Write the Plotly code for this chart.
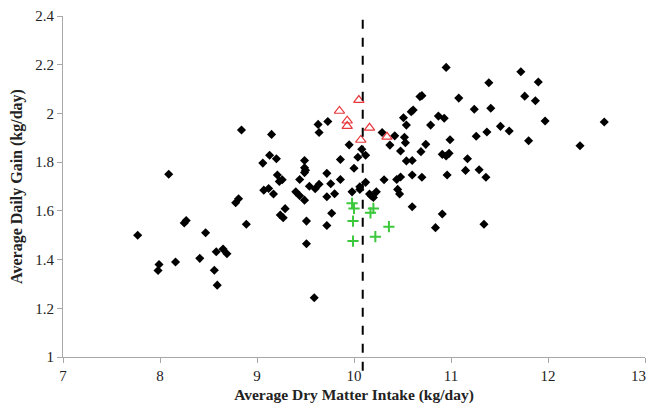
import plotly.graph_objects as go

# Black diamonds: (DMI kg/day, ADG kg/day)
dmi_main = [7.77, 8.09, 8.25, 8.27, 8.47, 7.99, 7.98, 8.16, 8.41, 8.58, 8.65, 8.69, 8.56, 8.59, 8.78, 8.81, 8.89,
            8.84, 9.15, 9.63, 9.73, 9.64, 9.95, 10.08, 10.04, 10.12, 10.00, 9.86, 9.06, 9.13, 9.20, 9.49, 9.49, 9.50,
            9.49, 9.72, 9.21, 9.26, 9.23, 9.44, 9.86, 9.76, 9.64, 9.54, 9.07, 9.12, 9.17, 9.40, 9.44, 9.49, 9.60,
            9.80, 9.72, 9.98, 10.06, 10.06, 10.12, 10.16, 10.18, 10.20, 10.23, 10.31, 10.44, 10.48, 10.45, 10.47,
            10.60, 10.70, 10.60, 9.29, 9.24, 9.27, 9.51, 9.77, 9.72, 9.51, 9.59, 10.84,
            10.68, 10.70, 10.61, 10.59, 10.51, 10.54, 10.79, 10.29, 10.42, 10.52, 10.53, 10.37, 10.48, 10.74, 10.69,
            10.54, 10.60,
            10.95, 11.72, 11.39, 11.90, 11.08, 11.76, 11.87, 11.24, 11.41, 10.87, 10.93, 11.51, 11.60, 11.37, 11.26,
            11.97, 12.58, 12.33, 11.80, 10.99, 10.91, 10.95, 10.98, 11.17, 11.15, 11.29, 11.36, 10.96, 10.91, 11.34]
adg_main = [1.500, 1.750, 1.550, 1.560, 1.510, 1.380, 1.355, 1.390, 1.405, 1.432, 1.443, 1.424, 1.356, 1.295, 1.633, 1.650, 1.545,
            1.932, 1.914, 1.955, 1.967, 1.922, 1.871, 1.853, 1.820, 1.828, 1.775, 1.811, 1.796, 1.828, 1.814, 1.807, 1.777, 1.767,
            1.757, 1.754, 1.747, 1.728, 1.721, 1.729, 1.729, 1.711, 1.709, 1.701, 1.685, 1.692, 1.669, 1.678, 1.662, 1.644, 1.691,
            1.670, 1.658, 1.678, 1.688, 1.699, 1.717, 1.669, 1.661, 1.655, 1.678, 1.728, 1.729, 1.739, 1.688, 1.669,
            1.747, 1.738, 1.617, 1.609, 1.583, 1.572, 1.558, 1.590, 1.540, 1.465, 1.243, 1.531,
            2.069, 2.073, 2.014, 2.007, 1.982, 1.952, 1.952, 1.922, 1.908, 1.902, 1.880, 1.870, 1.846, 1.873, 1.843,
            1.805, 1.807,
            2.189, 2.171, 2.126, 2.129, 2.063, 2.071, 2.052, 2.017, 2.021, 1.989, 1.980, 1.947, 1.928, 1.924, 1.906,
            1.969, 1.965, 1.867, 1.888, 1.892, 1.832, 1.825, 1.836, 1.814, 1.766, 1.769, 1.738, 1.747, 1.587, 1.545]

# Red open triangles
dmi_high = [9.85, 10.05, 9.93, 9.93, 10.16, 10.34, 10.07]
adg_high = [2.010, 2.055, 1.970, 1.948, 1.941, 1.904, 1.891]

# Green crosses
dmi_low = [9.98, 10.00, 10.20, 10.17, 9.99, 10.36, 10.22, 9.99]
adg_low = [1.631, 1.610, 1.610, 1.592, 1.558, 1.535, 1.494, 1.476]

mean_dmi = 10.09

x_ticks = [7, 8, 9, 10, 11, 12, 13]
x_ticktext = ["7", "8", "9", "10", "11", "12", ""]   # "13" drawn as an annotation so it stays inside the page
last_x_label = "13"
y_ticks = [1, 1.2, 1.4, 1.6, 1.8, 2, 2.2, 2.4]
y_ticktext = ["1", "1.2", "1.4", "1.6", "1.8", "2", "2.2", "2.4"]

fig = go.Figure()
fig.add_trace(go.Scatter(x=dmi_main, y=adg_main, mode="markers",
                         marker=dict(symbol="diamond", size=7, color="black"), showlegend=False))
fig.add_trace(go.Scatter(x=dmi_high, y=adg_high, mode="markers",
                         marker=dict(symbol="triangle-up-open", size=9, color="#e8383d",
                                     line=dict(width=1.2, color="#e8383d")), showlegend=False))
fig.add_trace(go.Scatter(x=dmi_low, y=adg_low, mode="markers",
                         marker=dict(symbol="cross-thin", size=8,
                                     line=dict(width=2, color="#3cc83c")), showlegend=False))

fig.add_shape(type="line", xref="x", yref="paper", x0=mean_dmi, x1=mean_dmi, y0=-0.04, y1=1.0,
              line=dict(color="black", width=2, dash="dash"))

font_family = "Liberation Serif"
fig.add_annotation(x=x_ticks[-1], xref="x", y=0, yref="paper", text=last_x_label, showarrow=False,
                   xanchor="right", yanchor="middle", xshift=3, yshift=-19,
                   font=dict(family=font_family, size=15, color="#222"))

fig.update_layout(
    width=648, height=408,
    margin=dict(l=63, r=3, t=16, b=51),
    paper_bgcolor="white", plot_bgcolor="white",
    font=dict(family=font_family, size=15, color="#222"),
    xaxis=dict(range=[7, 13], tickvals=x_ticks, ticktext=x_ticktext,
               showgrid=False, zeroline=False, showline=True, linecolor="#a8a8a8", linewidth=1,
               ticks="outside", ticklen=5, tickcolor="#a8a8a8",
               automargin=False,
               tickfont=dict(family=font_family, size=15, color="#222"),
               title=dict(text="<b>Average Dry Matter Intake (kg/day)</b>",
                          font=dict(family=font_family, size=15.5, color="#222"), standoff=6)),
    yaxis=dict(range=[1, 2.4], tickvals=y_ticks, ticktext=y_ticktext,
               showgrid=False, zeroline=False, showline=True, linecolor="#a8a8a8", linewidth=1,
               ticks="outside", ticklen=5, tickcolor="#a8a8a8", automargin=False,
               tickfont=dict(family=font_family, size=15, color="#222"),
               title=dict(text="<b>Average Daily Gain (kg/day)</b>",
                          font=dict(family=font_family, size=16, color="#222"), standoff=8)),
)

fig.write_html("out.html")
